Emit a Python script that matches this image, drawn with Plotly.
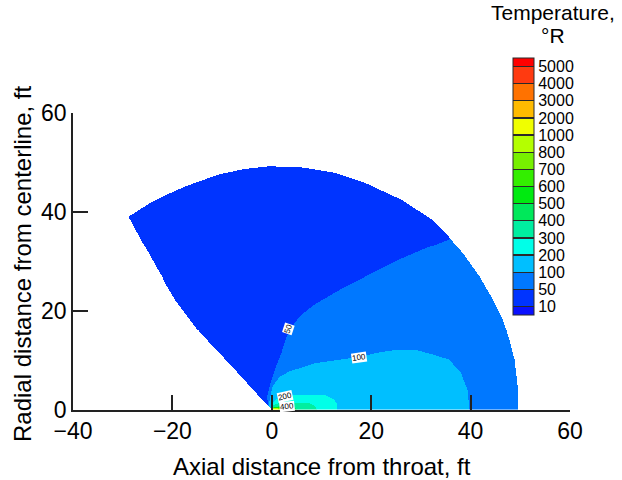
import numpy as np
import plotly.graph_objects as go

# ---------------- data ----------------
levels = [10, 50, 100, 200, 300, 400, 500, 600, 700, 800, 1000, 2000, 3000, 4000, 5000]
band_colors = ["#0a10ff", "#0034ff", "#0078ff", "#00bfff", "#00ffe8", "#00eea0",
               "#00e85a", "#00ea10", "#33ee00", "#77f000", "#b4ff00", "#f0ff00",
               "#ffbb00", "#ff7200", "#ff3a10", "#ff0000"]
bar_title = ["Temperature,", "°R"]
x_title = "Axial distance from throat, ft"
y_title = "Radial distance from centerline, ft"

# computational domain: left edge (origin -> corner) and outer arc (corner -> axis)
edge_x = [0.0, -1.9, -8.0, -14.4, -19.4, -23.4, -27.1, -28.9]
edge_y = [0.0, 2.0, 8.7, 15.5, 22.2, 29.0, 35.7, 39.05]
arc_x = [-28.9, -24.1, -17.4, -10.7, -5.5, -0.6, 6.1, 12.8, 19.5, 26.2, 32.3, 35.6,
         38.7, 41.7, 44.2, 46.4, 47.7, 48.7, 49.3, 49.4]
arc_y = [39.05, 42.1, 45.1, 47.5, 48.6, 49.15, 48.9, 47.8, 45.5, 42.4, 38.4, 35.0,
         31.1, 26.9, 22.6, 18.2, 14.0, 10.1, 5.0, 0.0]

# isotherm boundaries (temperature >= level inside)
c50_x = [-0.6, -1.0, -0.3, 0.7, 1.9, 2.6, 3.6, 5.8, 8.5, 13.5, 19.5, 25.6, 31.0, 35.6]
c50_y = [0.0, 2.7, 5.4, 8.5, 11.5, 13.8, 16.4, 19.2, 21.3, 24.2, 27.3, 30.3, 32.6, 34.5]
c100_x = [-0.5, -0.6, 0.1, 1.5, 3.4, 8.8, 13.0, 17.5, 21.5, 25.6, 29.0, 32.0, 35.6, 38.0, 39.3, 39.7]
c100_y = [0.0, 1.4, 4.7, 6.6, 7.7, 9.4, 10.0, 10.6, 11.5, 12.1, 12.0, 11.2, 10.1, 7.4, 4.0, 0.0]
c200_x = [-0.3, 0.0, 0.7, 1.8, 4.0, 6.8, 9.0, 10.8, 12.3, 13.0, 13.1]
c200_y = [0.0, 1.2, 2.0, 2.6, 3.0, 3.1, 3.1, 2.9, 2.2, 1.2, 0.0]
c300_x = [0.1, 0.3, 1.5, 3.5, 5.5, 7.5, 8.6, 9.0]
c300_y = [0.0, 1.0, 1.4, 1.5, 1.5, 1.3, 0.8, 0.0]
c400_x = [0.1, 0.3, 2.0, 3.8, 4.8, 5.0]
c400_y = [0.0, 0.6, 0.8, 0.7, 0.4, 0.0]
c500_x = [0.1, 0.3, 1.5, 2.8, 3.0]
c500_y = [0.0, 0.5, 0.6, 0.4, 0.0]
c600_x = [0.1, 0.3, 1.2, 2.2, 2.4]
c600_y = [0.0, 0.45, 0.5, 0.3, 0.0]
c700_x = [0.1, 0.3, 1.0, 1.9, 2.0]
c700_y = [0.0, 0.4, 0.45, 0.25, 0.0]
c800_x = [0.1, 0.3, 0.9, 1.6, 1.8]
c800_y = [0.0, 0.35, 0.4, 0.2, 0.0]
c1000_x = [0.1, 0.3, 0.8, 1.2, 1.4]
c1000_y = [0.0, 0.3, 0.3, 0.15, 0.0]

label_text = ["50", "100", "200", "400"]
label_x = [3.4, 17.6, 2.7, 3.0]
label_y = [16.4, 10.7, 2.8, 0.8]
label_angle = [-72, -8, -12, -6]

x_ticks = [-40, -20, 0, 20, 40, 60]
y_ticks = [0, 20, 40, 60]

# ---------------- field construction ----------------
def inside(px, py, vx, vy):
    vx = np.asarray(vx, float); vy = np.asarray(vy, float)
    res = np.zeros(px.shape, bool)
    j = len(vx) - 1
    for i in range(len(vx)):
        xi, yi, xj, yj = vx[i], vy[i], vx[j], vy[j]
        if yi != yj:
            cond = ((yi > py) != (yj > py)) & (px < (xj - xi) * (py - yi) / (yj - yi) + xi)
            res ^= cond
        j = i
    return res

step = 0.2
gx = np.arange(-30 + step / 2, 51, step)
gy = np.arange(step / 2, 51, step)
X, Y = np.meshgrid(gx, gy)

domain = inside(X, Y, edge_x + arc_x[1:], edge_y + arc_y[1:])

# level 50 region reaches the outer arc: close it outside the domain
p50x = c50_x + [2 * c50_x[-1], 2 * max(arc_x)]
p50y = c50_y + [2 * c50_y[-1], 0.0]
regions = [(p50x, p50y), (c100_x, c100_y), (c200_x, c200_y), (c300_x, c300_y),
           (c400_x, c400_y), (c500_x, c500_y), (c600_x, c600_y), (c700_x, c700_y),
           (c800_x, c800_y), (c1000_x, c1000_y)]
count = np.zeros(X.shape)
for rx, ry in regions:
    count += inside(X, Y, rx, ry)
Z = 1 + count + 0.5
Z[~domain] = np.nan

# discrete colour scale with thin separator lines (for the colour bar)
nb = len(band_colors)
zmin, zmax = 0.5, nb - 0.5
span = zmax - zmin
sep = 0.0024
sepcol = "#2a2a2a"
bounds = [round((k - zmin) / span, 6) for k in range(1, nb)]
cs = []
for k in range(nb):
    a = 0.0 if k == 0 else round(bounds[k - 1] + sep, 6)
    b = 1.0 if k == nb - 1 else round(bounds[k] - sep, 6)
    cs.append([a, band_colors[k]])
    cs.append([b, band_colors[k]])
    if k < nb - 1:
        cs.append([b, sepcol])
        cs.append([round(bounds[k] + sep, 6), sepcol])

FONT = "Liberation Sans, Arial, sans-serif"

fig = go.Figure()
fig.add_trace(go.Heatmap(
    x=gx, y=gy, z=Z, zmin=zmin, zmax=zmax, colorscale=cs, zsmooth=False,
    hoverinfo="skip",
    colorbar=dict(
        x=0.8853, xanchor="left", xpad=0,
        y=1.185, yanchor="top", ypad=0,
        len=257, lenmode="pixels", thickness=21, thicknessmode="pixels",
        outlinecolor="#2a2a2a", outlinewidth=1,
        tickvals=list(range(1, len(levels) + 1)),
        ticktext=[str(v) for v in levels],
        ticks="", tickfont=dict(family=FONT, size=16, color="black"),
    ),
))

for t, lx, ly, ang in zip(label_text, label_x, label_y, label_angle):
    fig.add_annotation(x=lx, y=ly, xref="x", yref="y", text=t, showarrow=False,
                       textangle=ang, bgcolor="white", borderpad=0,
                       font=dict(family=FONT, size=8, color="black"))

# colour-bar title (two centred lines)
for line, ypx in zip(bar_title, [12, 35]):
    fig.add_annotation(x=0.966, y=(410 - ypx) / 297, xref="paper", yref="paper",
                       xanchor="center", yanchor="middle", showarrow=False,
                       text=line, font=dict(family=FONT, size=21, color="black"))

# axis titles
fig.add_annotation(x=(22 - 73) / 497, y=(410 - 264) / 297, xref="paper", yref="paper",
                   xanchor="center", yanchor="middle", showarrow=False, textangle=-90,
                   text=y_title, font=dict(family=FONT, size=24, color="black"))
fig.add_annotation(x=0.5, y=(410 - 466) / 297, xref="paper", yref="paper",
                   xanchor="center", yanchor="middle", showarrow=False,
                   text=x_title, font=dict(family=FONT, size=24, color="black"))

axis_common = dict(
    showgrid=False, zeroline=False, showline=True, linecolor="#222", linewidth=1.5,
    ticks="inside", ticklen=15, tickwidth=1.5, tickcolor="#222",
    tickfont=dict(family=FONT, size=23, color="black"),
)
fig.update_xaxes(range=[-40, 60], tickvals=x_ticks, **axis_common)
fig.update_yaxes(range=[0, 60], tickvals=y_ticks, **axis_common)

fig.update_layout(
    width=622, height=480,
    margin=dict(l=73, r=52, t=113, b=70, autoexpand=False),
    paper_bgcolor="white", plot_bgcolor="white",
    showlegend=False,
)

fig.write_html("out.html")
